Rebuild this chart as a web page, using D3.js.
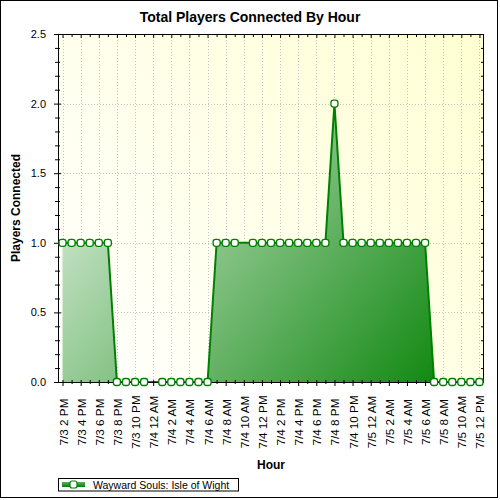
<!DOCTYPE html>
<html>
<head>
<meta charset="utf-8">
<script src="https://cdn.jsdelivr.net/npm/d3@7"></script>
<style>
  html, body { margin: 0; padding: 0; background: #fff; }
  svg { display: block; font-family: "Liberation Sans", Arial, sans-serif; }
</style>
</head>
<body>
<svg id="chart" width="500" height="500"></svg>
<script>
// ---- data ----
const hourLabels = [
  "7/3 2 PM","7/3 3 PM","7/3 4 PM","7/3 5 PM","7/3 6 PM","7/3 7 PM","7/3 8 PM","7/3 9 PM",
  "7/3 10 PM","7/3 11 PM","7/4 12 AM","7/4 1 AM","7/4 2 AM","7/4 3 AM","7/4 4 AM","7/4 5 AM",
  "7/4 6 AM","7/4 7 AM","7/4 8 AM","7/4 9 AM","7/4 10 AM","7/4 11 AM","7/4 12 PM","7/4 1 PM",
  "7/4 2 PM","7/4 3 PM","7/4 4 PM","7/4 5 PM","7/4 6 PM","7/4 7 PM","7/4 8 PM","7/4 9 PM",
  "7/4 10 PM","7/4 11 PM","7/5 12 AM","7/5 1 AM","7/5 2 AM","7/5 3 AM","7/5 4 AM","7/5 5 AM",
  "7/5 6 AM","7/5 7 AM","7/5 8 AM","7/5 9 AM","7/5 10 AM","7/5 11 AM","7/5 12 PM"
];
const players = [
  1,1,1,1,1,1,0,0,
  0,0,null,0,0,0,0,0,
  0,1,1,1,null,1,1,1,
  1,1,1,1,1,1,2,1,
  1,1,1,1,1,1,1,1,
  1,0,0,0,0,0,0
];
const xTickLabels = hourLabels.filter((d, i) => i % 2 === 0);
const yMajorTicks = [0, 0.5, 1.0, 1.5, 2.0, 2.5];
const yMinorTicks = d3.range(0, 26).map(i => i / 10);
const seriesName = "Wayward Souls: Isle of Wight";
const chartTitle = "Total Players Connected By Hour";
const xTitle = "Hour";
const yTitle = "Players Connected";

// ---- layout ----
const plot = { left: 58, right: 484, top: 34, bottom: 382 };
const svg = d3.select("#chart");
const defs = svg.append("defs");

const bg = defs.append("linearGradient").attr("id", "bgGrad")
  .attr("gradientUnits", "userSpaceOnUse")
  .attr("x1", plot.left).attr("y1", plot.bottom).attr("x2", plot.right).attr("y2", plot.top);
bg.append("stop").attr("offset", 0).attr("stop-color", "#ffffff");
bg.append("stop").attr("offset", 1).attr("stop-color", "#ffffd2");

const ag = defs.append("linearGradient").attr("id", "areaGrad")
  .attr("gradientUnits", "userSpaceOnUse")
  .attr("x1", plot.left).attr("y1", plot.top).attr("x2", plot.right).attr("y2", plot.bottom);
ag.append("stop").attr("offset", 0).attr("stop-color", "#ffffff");
ag.append("stop").attr("offset", 1).attr("stop-color", "#008000");

const lg = defs.append("linearGradient").attr("id", "legGrad")
  .attr("x1", 0).attr("y1", 0).attr("x2", 0).attr("y2", 1);
lg.append("stop").attr("offset", 0).attr("stop-color", "#60b060");
lg.append("stop").attr("offset", 1).attr("stop-color", "#008000");

// outer frame
svg.append("rect").attr("x", 0.5).attr("y", 0.5).attr("width", 497).attr("height", 497)
  .attr("fill", "#fff").attr("stroke", "#000").attr("stroke-width", 1);

const x = d3.scalePoint().domain(hourLabels).range([plot.left, plot.right]).padding(0.5);
const y = d3.scaleLinear().domain([0, 2.5]).range([plot.bottom, plot.top]);

// plot background
svg.append("rect").attr("x", plot.left).attr("y", plot.top)
  .attr("width", plot.right - plot.left).attr("height", plot.bottom - plot.top)
  .attr("fill", "url(#bgGrad)");

// gridlines
const grid = svg.append("g").attr("stroke", "#c4c4c4").attr("stroke-width", 1)
  .attr("stroke-dasharray", "1,2");
grid.selectAll("line.v").data(xTickLabels).join("line")
  .attr("x1", d => Math.round(x(d)) + 0.5).attr("x2", d => Math.round(x(d)) + 0.5)
  .attr("y1", plot.top).attr("y2", plot.bottom);
grid.selectAll("line.h").data(yMajorTicks.filter(v => v > 0 && v < 2.5)).join("line")
  .attr("x1", plot.left).attr("x2", plot.right)
  .attr("y1", d => Math.round(y(d)) + 0.5).attr("y2", d => Math.round(y(d)) + 0.5);

// series
const pts = hourLabels.map((h, i) => ({ h, v: players[i] })).filter(d => d.v !== null);
const area = d3.area().x(d => x(d.h)).y0(y(0)).y1(d => y(d.v));
const line = d3.line().x(d => x(d.h)).y(d => y(d.v));
svg.append("path").datum(pts).attr("d", area).attr("fill", "url(#areaGrad)");
svg.append("path").datum(pts).attr("d", line).attr("fill", "none")
  .attr("stroke", "#008000").attr("stroke-width", 2);

// plot border
svg.append("rect").attr("x", plot.left + 0.5).attr("y", plot.top + 0.5)
  .attr("width", plot.right - plot.left - 1).attr("height", plot.bottom - plot.top)
  .attr("fill", "none").attr("stroke", "#000").attr("stroke-width", 1);

// axes
const xAxis = svg.append("g").attr("transform", `translate(0,${plot.bottom})`)
  .call(d3.axisBottom(x).tickValues(hourLabels).tickSize(4).tickFormat(""));
xAxis.select(".domain").remove();
xAxis.selectAll(".tick line").attr("stroke", "#000")
  .attr("y1", -2).attr("y2", (d, i) => i % 2 === 0 ? 4 : 2);

const xTop = svg.append("g").attr("transform", `translate(0,${plot.top})`)
  .call(d3.axisTop(x).tickValues(hourLabels).tickSize(4).tickFormat(""));
xTop.select(".domain").remove();
xTop.selectAll(".tick line").attr("stroke", "#000").attr("y1", 0)
  .attr("y2", (d, i) => i % 2 === 0 ? 4 : 3);

// x tick labels
svg.append("g").selectAll("text").data(xTickLabels).join("text")
  .attr("transform", d => `translate(${x(d) + 0.5},422) rotate(-90)`)
  .attr("text-anchor", "middle").attr("dominant-baseline", "central")
  .attr("font-size", "11.7px").attr("fill", "#000").text(d => d);

const yAxis = svg.append("g").attr("transform", `translate(${plot.left},0)`)
  .call(d3.axisLeft(y).tickValues(yMinorTicks).tickSize(3).tickFormat(""));
yAxis.select(".domain").remove();
yAxis.selectAll(".tick line").attr("stroke", "#000")
  .attr("x1", d => yMajorTicks.some(m => Math.abs(m - d) < 1e-9) ? 3 : 2)
  .attr("x2", d => yMajorTicks.some(m => Math.abs(m - d) < 1e-9) ? -4 : -3);

const yLab = svg.append("g").attr("transform", `translate(${plot.left},0)`)
  .call(d3.axisLeft(y).tickValues(yMajorTicks).tickSize(0).tickPadding(12).tickFormat(d3.format(".1f")));
yLab.select(".domain").remove();
yLab.selectAll("text").attr("font-size", "11px").attr("font-family", "Liberation Sans, Arial, sans-serif")
  .attr("fill", "#000");

const yRight = svg.append("g").attr("transform", `translate(${plot.right},0)`)
  .call(d3.axisLeft(y).tickValues(yMinorTicks).tickSize(3).tickFormat(""));
yRight.select(".domain").remove();
yRight.selectAll(".tick line").attr("stroke", "#000").attr("x1", 0).attr("x2", -3);

// markers
svg.append("g").selectAll("rect").data(pts).join("rect")
  .attr("x", d => x(d.h) - 3.5).attr("y", d => y(d.v) - 3.5)
  .attr("width", 7).attr("height", 7).attr("rx", 2.5)
  .attr("fill", "#fff").attr("stroke", "#008000").attr("stroke-width", 1.3);

// titles
svg.append("text").attr("x", 250).attr("y", 22).attr("text-anchor", "middle")
  .attr("font-size", "14px").attr("font-weight", "bold").attr("fill", "#000").text(chartTitle);
svg.append("text").attr("x", (plot.left + plot.right) / 2).attr("y", 469).attr("text-anchor", "middle")
  .attr("font-size", "12px").attr("font-weight", "bold").attr("fill", "#000").text(xTitle);
svg.append("text").attr("transform", `translate(20,${(plot.top + plot.bottom) / 2}) rotate(-90)`)
  .attr("text-anchor", "middle")
  .attr("font-size", "12px").attr("font-weight", "bold").attr("fill", "#000").text(yTitle);

// legend
const leg = svg.append("g");
leg.append("rect").attr("x", 58.5).attr("y", 478.5).attr("width", 180).attr("height", 12.5)
  .attr("fill", "#fff").attr("stroke", "#000").attr("stroke-width", 1);
leg.append("rect").attr("x", 62).attr("y", 482).attr("width", 23).attr("height", 5)
  .attr("fill", "url(#legGrad)");
leg.append("rect").attr("x", 70).attr("y", 481).attr("width", 7).attr("height", 7).attr("rx", 2)
  .attr("fill", "#fff").attr("stroke", "#008000").attr("stroke-width", 1.2);
leg.append("text").attr("x", 93).attr("y", 488.5).attr("font-size", "10.5px").attr("fill", "#000")
  .text(seriesName);
</script>
</body>
</html>
